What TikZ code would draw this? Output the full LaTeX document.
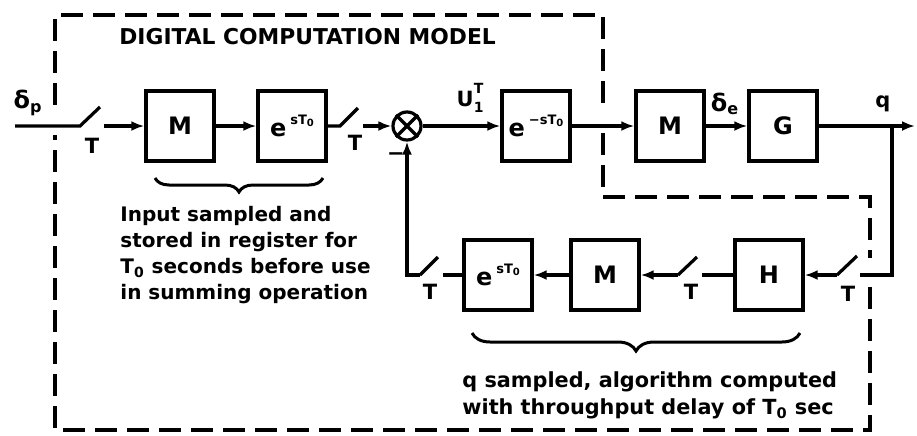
\documentclass[tikz,border=0pt]{standalone}
\usepackage{fontspec}
\setmainfont{DejaVu Sans}
\usetikzlibrary{arrows.meta,decorations.pathreplacing}
\newcommand{\expo}[1]{e\,\raisebox{0.95ex}{\fontsize{6.5}{7}\selectfont #1T\raisebox{-0.35ex}{\fontsize{5}{6}\selectfont 0}}}
\tikzset{
  blk/.style={draw, line width=1.7pt, minimum width=34pt, minimum height=35pt, inner sep=0pt, font=\fontsize{12}{14}\selectfont\bfseries},
  sig/.style={line width=1.6pt},
  arr/.style={sig, -{Latex[length=6.5pt,width=5pt]}},
  frame/.style={line width=2pt, dash pattern=on 11pt off 5pt},
  lbl/.style={font=\fontsize{10.5}{12}\selectfont\bfseries, inner sep=0pt},
  note/.style={anchor=north west, align=left, inner sep=0pt, font=\fontsize{10}{13}\selectfont\bfseries},
  brc/.style={line width=1.5pt, decorate, decoration={brace, mirror, amplitude=#1}}
}
\begin{document}
\begin{tikzpicture}[x=0.5pt,y=-0.5pt]
\useasboundingbox (0,0) rectangle (917,435);
% frame
\draw[frame] (55,105) -- (55,15) -- (603,15) -- (603,108);
\draw[frame] (603,133) -- (603,197) -- (870,197) -- (870,258);
\draw[frame] (870,287) -- (870,430) -- (55,430) -- (55,135);
\node[anchor=west, inner sep=0pt, font=\fontsize{10.9}{12}\selectfont\bfseries] (title) at (119,37) {DIGITAL COMPUTATION MODEL};
% blocks
\node[blk] (M1) at (180,126) {M};
\node[blk] (E1) at (292,126) {\expo{s}};
\node[circle, draw, line width=1.6pt, minimum size=14pt, inner sep=0pt] (S) at (407,126) {};
\node[blk] (E2) at (536,126) {\expo{−s}};
\node[blk] (M2) at (670,126) {M};
\node[blk] (G) at (783,126) {G};
\node[blk] (H) at (769,275) {H};
\node[blk] (M3) at (605,275) {M};
\node[blk] (E3) at (498,275) {\expo{s}};
% coordinates
\coordinate (in) at (15,126);
\coordinate (s1a) at (80,126); \coordinate (s1b) at (100,107); \coordinate (s1c) at (104,126);
\coordinate (s2a) at (340,126); \coordinate (s2b) at (358,108); \coordinate (s2c) at (363,126);
\coordinate (br) at (892,126); \coordinate (out) at (915,126);
\coordinate (s5c) at (860,275); \coordinate (s5b) at (857,256); \coordinate (s5a) at (837,275);
\coordinate (s4c) at (702,275); \coordinate (s4b) at (697,257); \coordinate (s4a) at (678,275);
\coordinate (s3c) at (443,275); \coordinate (s3b) at (438,257); \coordinate (s3a) at (420,275);
% connectors
\draw[sig] (in) -- (s1a) -- (s1b);
\draw[arr] (s1c) -- (M1);
\draw[arr] (M1) -- (E1);
\draw[sig] (E1) -- (s2a) -- (s2b);
\draw[arr] (s2c) -- (S);
\draw[sig] (S.45) -- (S.225) (S.135) -- (S.315);
\draw[arr] (S) -- (E2);
\draw[arr] (E2) -- (M2);
\draw[arr] (M2) -- (G);
\draw[arr] (G) -- (out);
\draw[sig] (br) |- (s5c);
\draw[sig] (s5b) -- (s5a);
\draw[arr] (s5a) -- (H);
\draw[sig] (H) -- (s4c);
\draw[sig] (s4b) -- (s4a);
\draw[arr] (s4a) -- (M3);
\draw[arr] (M3) -- (E3);
\draw[sig] (E3) -- (s3c);
\draw[sig] (s3b) -- (s3a);
\draw[arr] (s3a) -| (S);
% labels
\node[lbl, font=\fontsize{12}{14}\selectfont\bfseries] (dp) at (28,103) {δ\textsubscript{p}};
\node[lbl] (t1) at (92,146) {T};
\node[lbl] (t2) at (355,143) {T};
\node[lbl] (mi) at (396,157) {−};
\node[lbl] (u) at (470,98) {U\raisebox{-0.5ex}{\rlap{\fontsize{7}{8}\selectfont 1}}\raisebox{1.1ex}{\fontsize{7}{8}\selectfont T}};
\node[lbl, font=\fontsize{12}{14}\selectfont\bfseries] (de) at (725,104) {δ\textsubscript{e}};
\node[lbl] (q) at (883,104) {q};
\node[lbl] (t3) at (430,292) {T};
\node[lbl] (t4) at (691,292) {T};
\node[lbl] (t5) at (848,294) {T};
% braces and notes
\coordinate (b1a) at (155,178); \coordinate (b1b) at (323,178);
\draw[brc=7pt] (b1a) -- (b1b);
\coordinate (b2a) at (472,333); \coordinate (b2b) at (800,333);
\draw[brc=9pt] (b2a) -- (b2b);
\node[note] (n1) at (120,206) {Input sampled and\\stored in register for\\T\textsubscript{0} seconds before use\\in summing operation};
\node[note, font=\fontsize{10.4}{13.5}\selectfont\bfseries] (n2) at (462,371) {q sampled, algorithm computed\\with throughput delay of T\textsubscript{0} sec};
\end{tikzpicture}
\end{document}
